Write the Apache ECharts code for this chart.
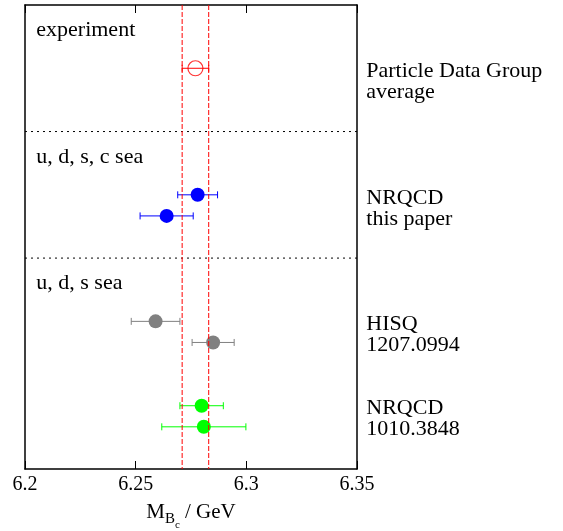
<!DOCTYPE html>
<html>
<head>
<meta charset="utf-8">
<script src="https://cdn.jsdelivr.net/npm/echarts@6/dist/echarts.min.js"></script>
<style>
  html, body { margin: 0; padding: 0; background: #fff; }
  #main { width: 563px; height: 531px; }
</style>
</head>
<body>
<div id="main"></div>
<script>
// B_c mass results, rows counted from the top of the frame
var pdgMass = [6.277];
var pdgErr = [0.006];
var pdgRow = [3];

var thisMass = [6.278, 6.264];
var thisErr = [0.009, 0.012];
var thisRow = [9, 10];

var hisqMass = [6.259, 6.285];
var hisqErr = [0.011, 0.0095];
var hisqRow = [15, 16];

var oldMass = [6.2798, 6.2808];
var oldErr = [0.0098, 0.019];
var oldRow = [19, 20];

var pdgBand = [6.271, 6.283];
var separatorRows = [6, 12];

var sectionLabels = ['experiment', 'u, d, s, c sea', 'u, d, s sea'];
var sectionRows = [1.2, 7.2, 13.2];
var sourceLabels = ['Particle Data Group\naverage', 'NRQCD\nthis paper', 'HISQ\n1207.0994', 'NRQCD\n1010.3848'];
var sourceRows = [3.65, 9.65, 15.65, 19.6];

var FONT = '"Liberation Serif", "DejaVu Serif", serif';

function pts(mass, row) {
    return mass.map(function (m, i) { return [m, row[i]]; });
}
function bars(mass, err, row) {
    return mass.map(function (m, i) { return [m - err[i], m + err[i], row[i]]; });
}

function errorBar(color) {
    return function (params, api) {
        var lo = api.coord([api.value(0), api.value(2)]);
        var hi = api.coord([api.value(1), api.value(2)]);
        var h = 3.5;
        var st = { stroke: color, lineWidth: 1 };
        return {
            type: 'group',
            children: [
                { type: 'line', shape: { x1: lo[0], y1: lo[1], x2: hi[0], y2: hi[1] }, style: st },
                { type: 'line', shape: { x1: lo[0], y1: lo[1] - h, x2: lo[0], y2: lo[1] + h }, style: st },
                { type: 'line', shape: { x1: hi[0], y1: hi[1] - h, x2: hi[0], y2: hi[1] + h }, style: st }
            ]
        };
    };
}

// full-height / full-width reference lines
function refLines(values, vertical, color, dash, z) {
    return {
        type: 'custom', silent: true, z: z,
        data: values.map(function (v) { return [v]; }),
        renderItem: function (params, api) {
            var v = api.value(0);
            var a = vertical ? api.coord([v, 0]) : api.coord([6.2, v]);
            var b = vertical ? api.coord([v, 22]) : api.coord([6.35, v]);
            return {
                type: 'line',
                shape: { x1: a[0], y1: a[1], x2: b[0], y2: b[1] },
                style: { stroke: color, lineWidth: 1, lineDash: dash }
            };
        }
    };
}

function textSeries(labels, rows, x) {
    return {
        type: 'custom',
        silent: true,
        data: labels.map(function (t, i) { return [x, rows[i], i]; }),
        renderItem: function (params, api) {
            var p = api.coord([api.value(0), api.value(1)]);
            return {
                type: 'text',
                x: p[0], y: p[1],
                style: {
                    text: labels[api.value(2)],
                    font: '22px ' + FONT,
                    fill: '#000',
                    align: 'left',
                    verticalAlign: 'middle',
                    lineHeight: 21
                }
            };
        },
        z: 5
    };
}

var chart = echarts.init(document.getElementById('main'));
var option = {
    animation: false,
    backgroundColor: '#fff',
    grid: { left: 25, right: 206, top: 5, bottom: 62, outerBoundsMode: 'none', containLabel: false },
    xAxis: [{
        type: 'value', min: 6.2, max: 6.35, interval: 0.05,
        axisLine: { show: true, onZero: false, lineStyle: { color: '#000', width: 1.5 } },
        axisTick: { show: true, inside: true, length: 8, lineStyle: { color: '#000', width: 1 } },
        axisLabel: {
            margin: 6, color: '#000', fontSize: 20, fontFamily: FONT,
            formatter: function (v) { return String(Math.round(v * 100) / 100); }
        },
        splitLine: { show: false },
        name: '{m|M}{b|B}{c|c}{m| / GeV}',
        nameLocation: 'middle',
        nameGap: 25,
        nameTextStyle: {
            rich: {
                m: { fontSize: 21, fontFamily: FONT, color: '#000' },
                b: { fontSize: 15, fontFamily: FONT, color: '#000', padding: [14, 0, 0, 0] },
                c: { fontSize: 11, fontFamily: FONT, color: '#000', padding: [26, 0, 0, 0] }
            }
        }
    }, {
        type: 'value', min: 6.2, max: 6.35, interval: 0.05, position: 'top',
        axisLine: { show: true, onZero: false, lineStyle: { color: '#000', width: 1.5 } },
        axisTick: { show: true, inside: true, length: 8, lineStyle: { color: '#000', width: 1 } },
        axisLabel: { show: false },
        splitLine: { show: false }
    }],
    yAxis: [{
        type: 'value', min: 0, max: 22, inverse: true,
        axisLine: { show: true, onZero: false, lineStyle: { color: '#000', width: 1.5 } },
        axisTick: { show: false }, axisLabel: { show: false }, splitLine: { show: false }
    }, {
        type: 'value', min: 0, max: 22, inverse: true, position: 'right',
        axisLine: { show: true, onZero: false, lineStyle: { color: '#000', width: 1.5 } },
        axisTick: { show: false }, axisLabel: { show: false }, splitLine: { show: false }
    }],
    series: [
        refLines(separatorRows, false, '#000', [2, 4], 2),
        { type: 'custom', renderItem: errorBar('#ff0000'), data: bars(pdgMass, pdgErr, pdgRow), z: 3 },
        { type: 'custom', renderItem: errorBar('#0000ff'), data: bars(thisMass, thisErr, thisRow), z: 3 },
        { type: 'custom', renderItem: errorBar('#808080'), data: bars(hisqMass, hisqErr, hisqRow), z: 3 },
        { type: 'custom', renderItem: errorBar('#00ff00'), data: bars(oldMass, oldErr, oldRow), z: 3 },
        {
            type: 'scatter', data: pts(pdgMass, pdgRow), symbol: 'circle', symbolSize: 15, z: 4,
            itemStyle: { color: 'rgba(0,0,0,0)', borderColor: '#ff0000', borderWidth: 1.2 }
        },
        { type: 'scatter', data: pts(thisMass, thisRow), symbolSize: 14, z: 4, itemStyle: { color: '#0000ff', opacity: 1 } },
        { type: 'scatter', data: pts(hisqMass, hisqRow), symbolSize: 14, z: 4, itemStyle: { color: '#808080', opacity: 1 } },
        { type: 'scatter', data: pts(oldMass, oldRow), symbolSize: 14, z: 4, itemStyle: { color: '#00ff00', opacity: 1 } },
        refLines(pdgBand, true, '#ff0000', [5, 2], 6),
        textSeries(sectionLabels, sectionRows, 6.2051),
        textSeries(sourceLabels, sourceRows, 6.3542)
    ]
};
chart.setOption(option);
</script>
</body>
</html>
